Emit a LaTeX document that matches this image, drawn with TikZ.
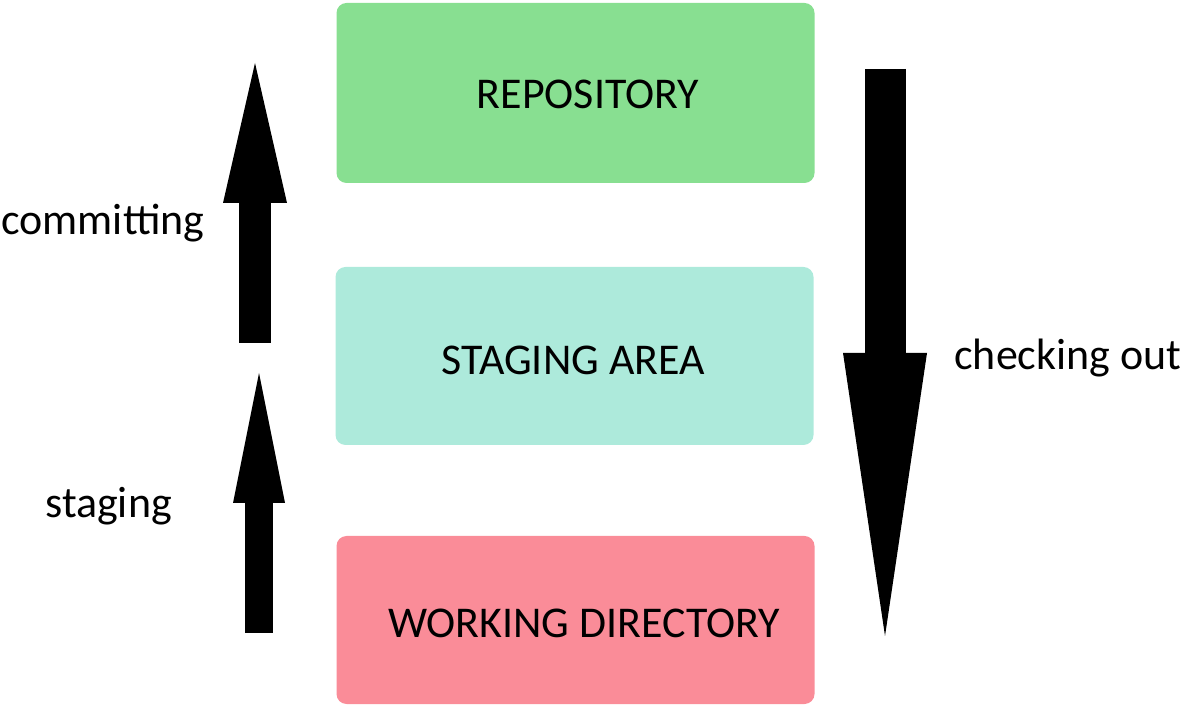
\documentclass[tikz,border=0pt]{standalone}
\usepackage{fontspec}
\setmainfont{Carlito}
\usetikzlibrary{arrows.meta}
\definecolor{repogreen}{HTML}{88DF91}
\definecolor{stagecyan}{HTML}{ADEADB}
\definecolor{workpink}{HTML}{FA8C98}
\tikzset{
	area/.style={rounded corners=0.2cm, minimum width=9.56cm, inner sep=0pt},
	arealabel/.style={inner sep=0pt, font=\fontsize{25}{30}\selectfont},
	sidelabel/.style={anchor=base west, inner sep=0pt, font=\fontsize{25}{30}\selectfont}
}
\newcommand{\drawblockarrow}[5]{% from, to, shaft, head width, head length
	\draw[line width=#3, -{Triangle[width=#4, length=#5, line width=0pt]}] (#1) -- (#2);
}

\begin{document}
\begin{tikzpicture}
\useasboundingbox (0, 0) rectangle (23.74, 14.18);

\node[area, fill=repogreen, minimum height=3.6cm] (repo) at (11.51, 12.32) {};
\node[arealabel] (repotext) at (11.76, 12.3) {REPOSITORY};

\node[area, fill=stagecyan, minimum height=3.56cm] (stage) at (11.49, 7.06) {};
\node[arealabel] (stagetext) at (11.46, 6.98) {STAGING AREA};

\node[area, fill=workpink, minimum height=3.36cm] (work) at (11.51, 1.78) {};
\node[arealabel] (worktext) at (11.68, 1.72) {WORKING DIRECTORY};

\coordinate (commitfrom) at (5.1, 7.32);
\coordinate (committo) at (5.1, 12.92);
\drawblockarrow{commitfrom}{committo}{0.64cm}{1.28cm}{2.8cm}
\node[sidelabel] (commitlabel) at (0.02, 9.48) {committing};

\coordinate (stagefrom) at (5.18, 1.52);
\coordinate (stageto) at (5.18, 6.72);
\drawblockarrow{stagefrom}{stageto}{0.56cm}{1.04cm}{2.6cm}
\node[sidelabel] (stagelabel) at (0.9, 3.82) {staging};

\coordinate (checkfrom) at (17.7, 12.8);
\coordinate (checkto) at (17.7, 1.46);
\drawblockarrow{checkfrom}{checkto}{0.82cm}{1.68cm}{5.66cm}
\node[sidelabel] (checklabel) at (19.08, 6.78) {checking out};

\end{tikzpicture}
\end{document}
